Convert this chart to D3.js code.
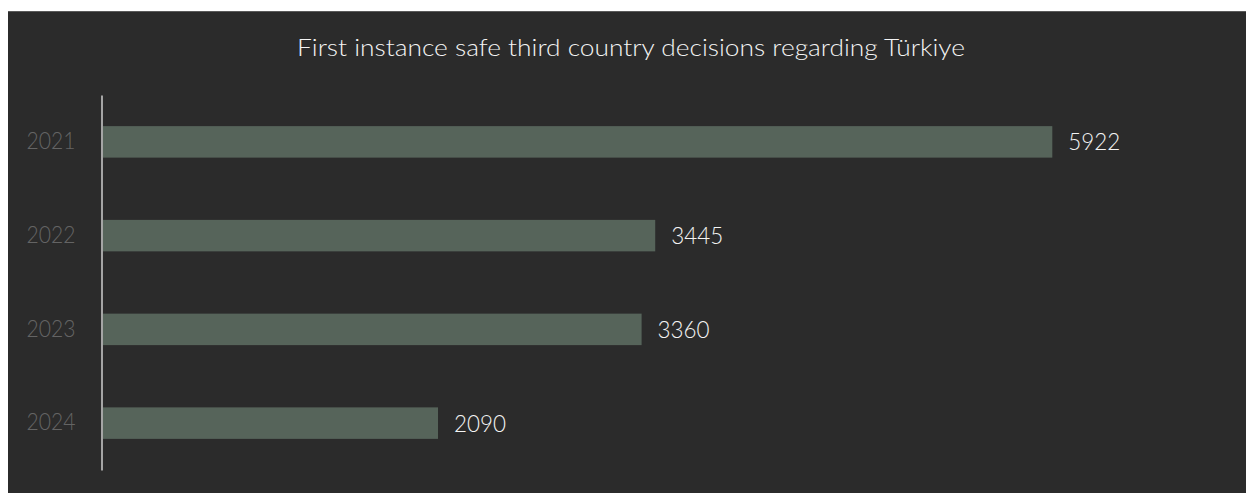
<!DOCTYPE html>
<html>
<head>
<meta charset="utf-8">
<script src="https://cdn.jsdelivr.net/npm/d3@7"></script>
<style>
  html, body { margin: 0; padding: 0; background: #ffffff; }
  svg { display: block; }
  text { font-family: "Century Gothic", "Lato", "DejaVu Sans", sans-serif; font-weight: 300; }
</style>
</head>
<body>
<svg id="chart" width="1246" height="493"></svg>
<script>
// Decisions per year
const years = ["2021", "2022", "2023", "2024"];
const decisions = [5922, 3445, 3360, 2090];
const title = "First instance safe third country decisions regarding Türkiye";

const W = 1246, H = 493;
const svg = d3.select("#chart");

// dark panel
svg.append("rect")
  .attr("x", 8).attr("y", 11)
  .attr("width", W - 8).attr("height", H - 11)
  .attr("fill", "#2b2b2b");
svg.append("line")
  .attr("x1", 8).attr("x2", W).attr("y1", 11.5).attr("y2", 11.5)
  .attr("stroke", "#5a5a5a").attr("stroke-width", 1);

const x = d3.scaleLinear().domain([0, 5922]).range([103, 1052.3]);
const y = d3.scaleBand().domain(years).range([95, 470])
  .paddingInner(0.664).paddingOuter(0.332);

const data = years.map((yr, i) => ({ year: yr, value: decisions[i] }));

// bars
svg.append("g").selectAll("rect")
  .data(data).join("rect")
  .attr("x", x(0))
  .attr("y", d => y(d.year))
  .attr("width", d => x(d.value) - x(0))
  .attr("height", y.bandwidth())
  .attr("fill", "#56645a");

// value labels
svg.append("g").selectAll("text")
  .data(data).join("text")
  .attr("x", d => x(d.value) + 16)
  .attr("y", d => y(d.year) + y.bandwidth() / 2)
  .attr("dy", "0.38em")
  .attr("font-size", 22.5)
  .attr("fill", "#f4f4f4")
  .attr("textLength", 52)
  .attr("lengthAdjust", "spacingAndGlyphs")
  .text(d => d.value);

// category axis
const yAxis = d3.axisLeft(y).tickSize(0).tickPadding(26);
const gy = svg.append("g").attr("transform", "translate(101.5,0)").call(yAxis);
gy.select(".domain").attr("stroke", "#cfcfcf").attr("stroke-width", 1.5);
gy.selectAll(".tick text")
  .attr("font-size", 22.5)
  .attr("fill", "#646464")
  .attr("font-family", null)
  .attr("textLength", 49)
  .attr("lengthAdjust", "spacingAndGlyphs");

// title
svg.append("text")
  .attr("x", 631).attr("y", 56)
  .attr("text-anchor", "middle")
  .attr("font-size", 22.5)
  .attr("fill", "#f4f4f4")
  .attr("textLength", 668)
  .attr("lengthAdjust", "spacingAndGlyphs")
  .text(title);
</script>
</body>
</html>
